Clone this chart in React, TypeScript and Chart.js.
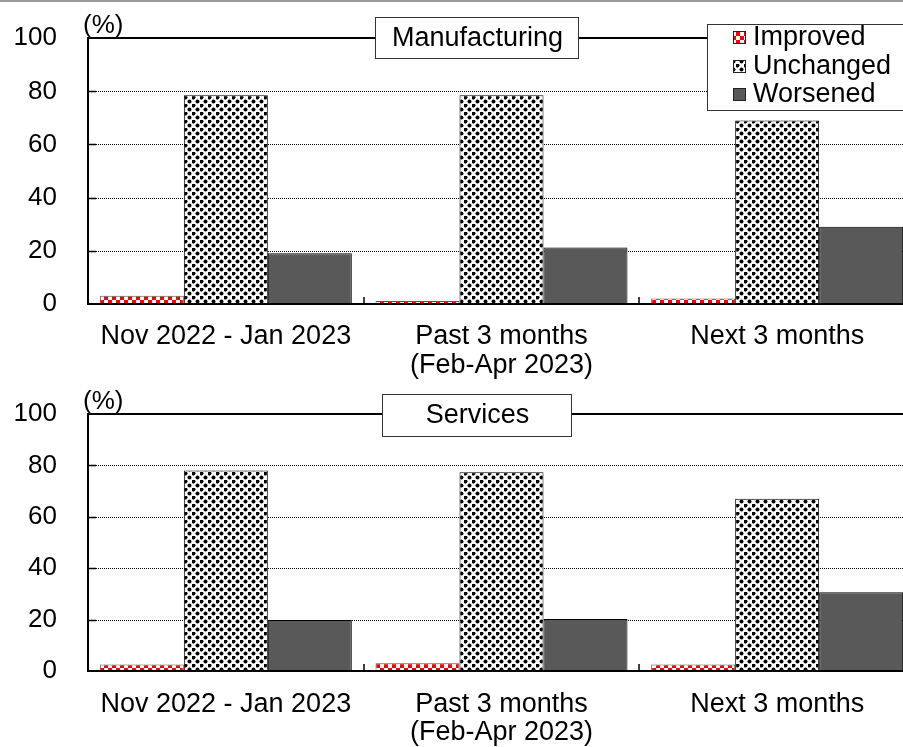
import React, { useEffect, useRef } from "react";
import { Chart, registerables } from "chart.js";

Chart.register(...registerables);

// ---- data ----
const categories: string[][] = [
  ["Nov 2022 - Jan 2023"],
  ["Past 3 months", "(Feb-Apr 2023)"],
  ["Next 3 months"],
];
const seriesNames = ["Improved", "Unchanged", "Worsened"];
const gridValues = [20, 40, 60, 80];

const manufacturingImproved = [3, 1, 2];
const manufacturingUnchanged = [78.5, 78.5, 69];
const manufacturingWorsened = [19, 21.2, 29];

const servicesImproved = [2.5, 3, 2.5];
const servicesUnchanged = [78, 77.3, 67];
const servicesWorsened = [19.8, 20.2, 30.6];

// ---- look ----
const FONT = '"Liberation Sans", Arial, Helvetica, sans-serif';
const CANVAS_W = 915;
const AXIS_LEFT = 88;

function makePatterns(ctx: CanvasRenderingContext2D) {
  const chk = document.createElement("canvas");
  chk.width = 8;
  chk.height = 8;
  const c1 = chk.getContext("2d")!;
  c1.fillStyle = "#ffffff";
  c1.fillRect(0, 0, 8, 8);
  c1.fillStyle = "#ff0000";
  c1.fillRect(0, 0, 4, 4);
  c1.fillRect(4, 4, 4, 4);

  const dot = document.createElement("canvas");
  dot.width = 8;
  dot.height = 8;
  const c2 = dot.getContext("2d")!;
  c2.fillStyle = "#ffffff";
  c2.fillRect(0, 0, 8, 8);
  c2.fillStyle = "#000000";
  for (const [cx, cy] of [
    [1.5, 1.5],
    [5.5, 5.5],
  ]) {
    c2.beginPath();
    c2.arc(cx, cy, 2, 0, Math.PI * 2);
    c2.fill();
  }

  return {
    improved: ctx.createPattern(chk, "repeat")!,
    unchanged: ctx.createPattern(dot, "repeat")!,
    worsened: "#595959",
  };
}

type Box = { x: number; y: number; w: number; h: number };

function makeDecor(title: string, titleBox: Box, showLegend: boolean, fills: any) {
  return {
    id: "panelDecor",
    beforeDatasetsDraw(chart: any) {
      const { ctx, chartArea } = chart;
      const y = chart.scales.y;
      ctx.save();
      ctx.strokeStyle = "#000";
      ctx.lineWidth = 1;
      ctx.setLineDash([1, 1]);
      for (const v of gridValues) {
        const py = Math.round(y.getPixelForValue(v)) + 0.5;
        ctx.beginPath();
        ctx.moveTo(chartArea.left, py);
        ctx.lineTo(chartArea.right, py);
        ctx.stroke();
      }
      ctx.setLineDash([]);
      // solid top line at 100
      const top = Math.round(y.getPixelForValue(100));
      ctx.lineWidth = 2;
      ctx.beginPath();
      ctx.moveTo(chartArea.left, top);
      ctx.lineTo(chartArea.right, top);
      ctx.stroke();
      ctx.restore();
    },
    afterDatasetsDraw(chart: any) {
      const { ctx, chartArea } = chart;
      const y = chart.scales.y;
      const top = Math.round(y.getPixelForValue(100));
      const base = Math.round(y.getPixelForValue(0));
      ctx.save();
      ctx.strokeStyle = "#000";
      ctx.lineWidth = 2;
      // axes
      ctx.beginPath();
      ctx.moveTo(chartArea.left, top - 1);
      ctx.lineTo(chartArea.left, base + 1);
      ctx.moveTo(chartArea.left - 1, base);
      ctx.lineTo(chartArea.right, base);
      ctx.stroke();
      // inward value ticks
      ctx.lineWidth = 1.5;
      ctx.beginPath();
      for (const v of gridValues) {
        const py = Math.round(y.getPixelForValue(v)) + 0.5;
        ctx.moveTo(chartArea.left, py);
        ctx.lineTo(chartArea.left + 8, py);
      }
      // inward category ticks between groups
      const n = categories.length;
      const gw = (chartArea.right - chartArea.left) / n;
      for (let i = 1; i < n; i++) {
        const px = Math.round(chartArea.left + gw * i);
        ctx.moveTo(px, base);
        ctx.lineTo(px, base - 7);
      }
      ctx.stroke();

      // unit label
      ctx.fillStyle = "#000";
      ctx.font = `26px ${FONT}`;
      ctx.textAlign = "left";
      ctx.textBaseline = "middle";
      ctx.fillText("(%)", 83, top - 12);

      // title box on the top line
      ctx.fillStyle = "#fff";
      ctx.fillRect(titleBox.x, titleBox.y, titleBox.w, titleBox.h);
      ctx.strokeStyle = "#333";
      ctx.lineWidth = 1;
      ctx.strokeRect(titleBox.x + 0.5, titleBox.y + 0.5, titleBox.w, titleBox.h);
      ctx.fillStyle = "#000";
      ctx.font = `27px ${FONT}`;
      ctx.textAlign = "center";
      ctx.fillText(title, titleBox.x + titleBox.w / 2 + 1, titleBox.y + titleBox.h / 2 + 1);

      if (showLegend) {
        const lx = 707;
        const ly = 24;
        ctx.fillStyle = "#fff";
        ctx.fillRect(lx, ly, 240, 86);
        ctx.strokeStyle = "#333";
        ctx.strokeRect(lx + 0.5, ly + 0.5, 240, 86);
        const rows = [37, 66, 94];
        const markerFills = [fills.improved, fills.unchanged, fills.worsened];
        ctx.font = `27px ${FONT}`;
        ctx.textAlign = "left";
        seriesNames.forEach((name, i) => {
          const cy = rows[i];
          ctx.fillStyle = markerFills[i];
          ctx.fillRect(733, cy - 6, 13, 13);
          ctx.strokeStyle = "#222";
          ctx.strokeRect(733.5, cy - 5.5, 12, 12);
          ctx.fillStyle = "#000";
          ctx.fillText(name, 753, cy + 1);
        });
      }
      ctx.restore();
    },
  };
}

type PanelProps = {
  top: number;
  height: number;
  areaTop: number;
  areaBottom: number;
  title: string;
  titleBox: Box;
  showLegend: boolean;
  improved: number[];
  unchanged: number[];
  worsened: number[];
};

function Panel(props: PanelProps) {
  const ref = useRef<HTMLCanvasElement>(null);
  useEffect(() => {
    const canvas = ref.current!;
    const ctx = canvas.getContext("2d")!;
    const fills = makePatterns(ctx);
    const values = [props.improved, props.unchanged, props.worsened];
    const fillList = [fills.improved, fills.unchanged, fills.worsened];
    const borderList = ["#555", "#000", "#000"];
    const chart = new Chart(canvas, {
      type: "bar",
      data: {
        labels: categories as any,
        datasets: seriesNames.map((name, i) => ({
          label: name,
          data: values[i],
          backgroundColor: fillList[i] as any,
          borderColor: borderList[i],
          borderWidth: 1,
          categoryPercentage: 0.914,
          barPercentage: 1,
        })),
      },
      options: {
        responsive: false,
        animation: false,
        devicePixelRatio: 1,
        layout: { padding: { top: props.areaTop, left: 0, right: 0, bottom: 0 } },
        plugins: {
          legend: { display: false },
          title: { display: false },
          tooltip: { enabled: false },
        },
        scales: {
          x: {
            grid: { display: false, drawTicks: false },
            border: { display: false },
            ticks: {
              color: "#000",
              font: { family: FONT, size: 27, lineHeight: 1.05 },
              padding: 19,
              autoSkip: false,
              maxRotation: 0,
              minRotation: 0,
            },
            afterFit: (s: any) => {
              s.height = props.height - props.areaBottom;
            },
          },
          y: {
            min: 0,
            max: 100,
            // invisible tick marks give the gap between labels and axis
            grid: {
              display: true,
              drawOnChartArea: false,
              drawTicks: true,
              tickLength: 31,
              tickColor: "rgba(0,0,0,0)",
              color: "rgba(0,0,0,0)",
            },
            border: { display: false },
            ticks: {
              stepSize: 20,
              color: "#000",
              font: { family: FONT, size: 26 },
              padding: 0,
            },
            afterFit: (s: any) => {
              s.width = AXIS_LEFT;
            },
          },
        },
      },
      plugins: [makeDecor(props.title, props.titleBox, props.showLegend, fills)],
    });
    return () => chart.destroy();
  }, []);
  return (
    <canvas
      ref={ref}
      width={CANVAS_W}
      height={props.height}
      style={{ position: "absolute", left: 0, top: props.top, width: CANVAS_W, height: props.height, display: "block" }}
    />
  );
}

export default function App() {
  return (
    <div
      style={{
        position: "absolute",
        left: 0,
        top: 0,
        width: 903,
        height: 747,
        overflow: "hidden",
        background: "#fff",
      }}
    >
      <Panel
        top={0}
        height={385}
        areaTop={38.3}
        areaBottom={303.7}
        title="Manufacturing"
        titleBox={{ x: 375, y: 17, w: 203, h: 41 }}
        showLegend={true}
        improved={manufacturingImproved}
        unchanged={manufacturingUnchanged}
        worsened={manufacturingWorsened}
      />
      <Panel
        top={376}
        height={371}
        areaTop={38}
        areaBottom={295}
        title="Services"
        titleBox={{ x: 382, y: 18, w: 189, h: 42 }}
        showLegend={false}
        improved={servicesImproved}
        unchanged={servicesUnchanged}
        worsened={servicesWorsened}
      />
      <div style={{ position: "absolute", left: 0, top: 0, width: 903, height: 2, background: "#9a9a9a" }} />
    </div>
  );
}
